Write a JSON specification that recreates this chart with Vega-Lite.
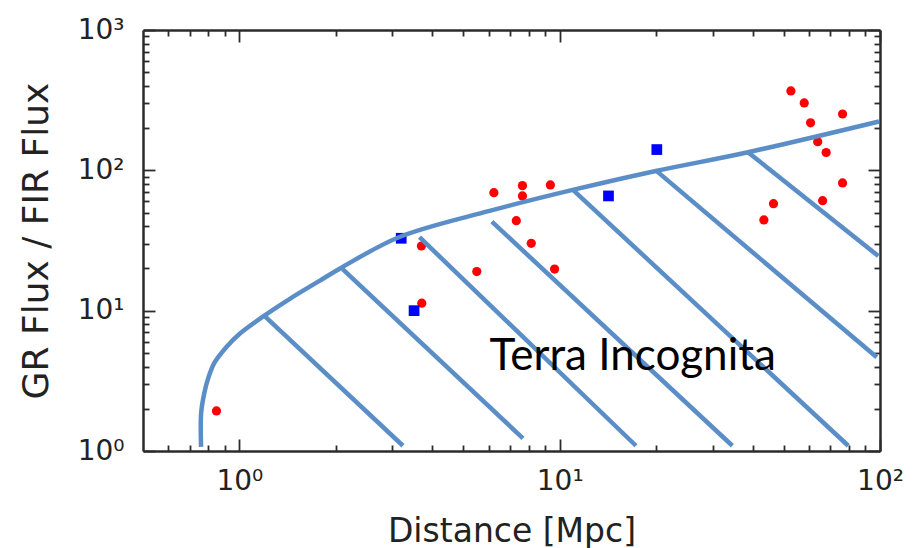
{
  "$schema": "https://vega.github.io/schema/vega-lite/v6.json",
  "width": 737,
  "height": 421,
  "autosize": {"type": "none"},
  "padding": {"left": 143, "top": 30, "right": 35, "bottom": 97},
  "background": "white",
  "config": {
    "view": {"stroke": null},
    "axis": {
      "grid": false,
      "domainColor": "#2b2b2b",
      "domainWidth": 2.5,
      "tickColor": "#2b2b2b",
      "tickWidth": 1.8,
      "labelFont": "DejaVu Sans",
      "labelFontSize": 28,
      "labelColor": "#222222",
      "labelFlush": false,
      "labelOverlap": false,
      "titleFont": "DejaVu Sans",
      "titleFontWeight": "normal",
      "titleColor": "#222222"
    }
  },
  "datasets": {
    "boundary": [
      {"d": 0.759, "r": 1.07},
      {"d": 0.7595, "r": 1.87},
      {"d": 0.777, "r": 2.59},
      {"d": 0.796, "r": 3.21},
      {"d": 0.835, "r": 4.24},
      {"d": 0.911, "r": 5.51},
      {"d": 1.0, "r": 6.82},
      {"d": 1.18, "r": 9.02},
      {"d": 1.433, "r": 12.1},
      {"d": 1.778, "r": 16.3},
      {"d": 2.1, "r": 20.5},
      {"d": 3.16, "r": 33.5},
      {"d": 6.04, "r": 51.4},
      {"d": 10.98, "r": 72.5},
      {"d": 19.95, "r": 99.0},
      {"d": 38.4, "r": 134},
      {"d": 99.3, "r": 223}
    ],
    "hatch": [
      {"d": 1.197, "r": 9.17, "d2": 3.24, "r2": 1.09},
      {"d": 2.1, "r": 19.8, "d2": 7.68, "r2": 1.23},
      {"d": 3.65, "r": 33.4, "d2": 17.3, "r2": 1.09},
      {"d": 6.14, "r": 43.1, "d2": 34.6, "r2": 1.09},
      {"d": 11.0, "r": 72.5, "d2": 79.6, "r2": 1.09},
      {"d": 20.0, "r": 99.5, "d2": 97.7, "r2": 4.65},
      {"d": 38.8, "r": 134, "d2": 98.8, "r2": 24.5}
    ],
    "galaxies": [
      {"d": 0.848, "r": 1.93, "kind": "red"},
      {"d": 3.7, "r": 28.9, "kind": "red"},
      {"d": 3.71, "r": 11.3, "kind": "red"},
      {"d": 5.51, "r": 19.0, "kind": "red"},
      {"d": 6.23, "r": 69.3, "kind": "red"},
      {"d": 7.65, "r": 77.8, "kind": "red"},
      {"d": 7.65, "r": 65.7, "kind": "red"},
      {"d": 9.35, "r": 78.7, "kind": "red"},
      {"d": 7.32, "r": 43.8, "kind": "red"},
      {"d": 8.15, "r": 30.2, "kind": "red"},
      {"d": 9.64, "r": 19.8, "kind": "red"},
      {"d": 52.7, "r": 368, "kind": "red"},
      {"d": 58.0, "r": 302, "kind": "red"},
      {"d": 76.4, "r": 252, "kind": "red"},
      {"d": 60.7, "r": 218, "kind": "red"},
      {"d": 63.9, "r": 160, "kind": "red"},
      {"d": 67.9, "r": 134, "kind": "red"},
      {"d": 76.4, "r": 81.3, "kind": "red"},
      {"d": 66.2, "r": 60.8, "kind": "red"},
      {"d": 46.5, "r": 57.9, "kind": "red"},
      {"d": 43.4, "r": 44.3, "kind": "red"},
      {"d": 3.2, "r": 32.8, "kind": "blue"},
      {"d": 3.51, "r": 10.0, "kind": "blue"},
      {"d": 14.2, "r": 65.7, "kind": "blue"},
      {"d": 20.1, "r": 140.6, "kind": "blue"}
    ],
    "note": [
      {"d": 6.04, "r": 3.78, "text": "Terra Incognita"}
    ]
  },
  "layer": [
    {
      "encoding": {
        "x": {
          "field": "d",
          "type": "quantitative",
          "scale": {"type": "log", "domain": [0.5, 100], "nice": false},
          "axis": {
            "orient": "bottom",
            "title": "Distance [Mpc]",
            "titleFontSize": 33,
            "titlePadding": 14,
            "values": [0.6, 0.7, 0.8, 0.9, 1, 2, 3, 4, 5, 6, 7, 8, 9, 10, 20, 30, 40, 50, 60, 70, 80, 90, 100],
            "labelExpr": "datum.value == 1 ? '10⁰' : datum.value == 10 ? '10¹' : datum.value == 100 ? '10²' : ''",
            "tickSize": {"condition": {"test": "indexof([1, 10, 100], datum.value) >= 0", "value": -12}, "value": -6},
            "labelPadding": 28
          }
        },
        "y": {
          "field": "r",
          "type": "quantitative",
          "scale": {"type": "log", "domain": [1, 1000], "nice": false},
          "axis": {
            "orient": "left",
            "title": "GR Flux / FIR Flux",
            "titleFontSize": 36,
            "titlePadding": 22,
            "values": [1, 2, 3, 4, 5, 6, 7, 8, 9, 10, 20, 30, 40, 50, 60, 70, 80, 90, 100, 200, 300, 400, 500, 600, 700, 800, 900, 1000],
            "labelExpr": "datum.value == 1 ? '10⁰' : datum.value == 10 ? '10¹' : datum.value == 100 ? '10²' : datum.value == 1000 ? '10³' : ''",
            "tickSize": {"condition": {"test": "indexof([1, 10, 100, 1000], datum.value) >= 0", "value": -12}, "value": -6},
            "labelPadding": 31
          }
        }
      },
      "layer": [
        {
          "data": {"name": "galaxies"},
          "transform": [{"filter": "datum.kind == 'red'"}],
          "mark": {"type": "circle", "size": 85, "color": "#ff0000", "opacity": 1}
        },
        {
          "data": {"name": "galaxies"},
          "transform": [{"filter": "datum.kind == 'blue'"}],
          "mark": {"type": "square", "size": 115, "color": "#0000ff", "opacity": 1}
        },
        {
          "data": {"name": "boundary"},
          "mark": {"type": "line", "interpolate": "catmull-rom", "color": "#5b8ec6", "strokeWidth": 4.5}
        },
        {
          "data": {"name": "hatch"},
          "mark": {"type": "rule", "color": "#5b8ec6", "strokeWidth": 4.5},
          "encoding": {
            "x2": {"field": "d2"},
            "y2": {"field": "r2"}
          }
        },
        {
          "data": {"name": "note"},
          "mark": {"type": "text", "font": "Lato", "fontSize": 44, "align": "left", "baseline": "alphabetic", "color": "#000000"},
          "encoding": {"text": {"field": "text"}}
        }
      ]
    },
    {
      "data": {"name": "galaxies"},
      "mark": {"type": "point", "opacity": 0},
      "encoding": {
        "x": {
          "field": "d",
          "type": "quantitative",
          "scale": {"type": "log", "domain": [0.5, 100], "nice": false},
          "axis": {
            "orient": "top",
            "title": null,
            "labels": false,
            "values": [0.6, 0.7, 0.8, 0.9, 1, 2, 3, 4, 5, 6, 7, 8, 9, 10, 20, 30, 40, 50, 60, 70, 80, 90, 100],
            "tickSize": {"condition": {"test": "indexof([1, 10, 100], datum.value) >= 0", "value": -12}, "value": -6}
          }
        },
        "y": {
          "field": "r",
          "type": "quantitative",
          "scale": {"type": "log", "domain": [1, 1000], "nice": false},
          "axis": {
            "orient": "right",
            "title": null,
            "labels": false,
            "values": [1, 2, 3, 4, 5, 6, 7, 8, 9, 10, 20, 30, 40, 50, 60, 70, 80, 90, 100, 200, 300, 400, 500, 600, 700, 800, 900, 1000],
            "tickSize": {"condition": {"test": "indexof([1, 10, 100, 1000], datum.value) >= 0", "value": -12}, "value": -6}
          }
        }
      }
    }
  ],
  "resolve": {"axis": {"x": "independent", "y": "independent"}}
}
